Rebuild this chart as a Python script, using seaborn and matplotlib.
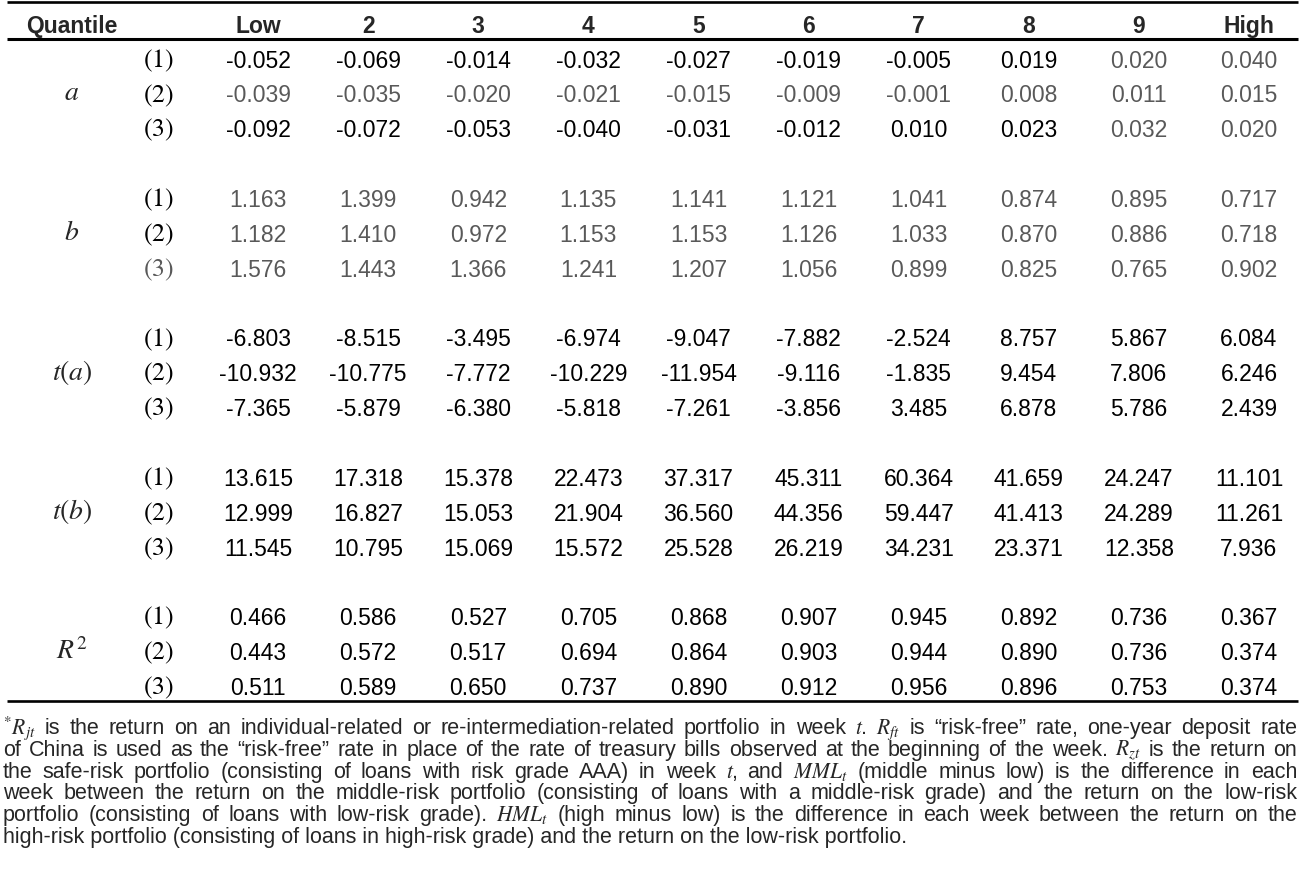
import numpy as np
import pandas as pd
import matplotlib
matplotlib.use("Agg")
import matplotlib.pyplot as plt
import matplotlib.transforms as mtransforms
from matplotlib.colors import ListedColormap
import seaborn as sns

# table data
quantiles = ["Low", "2", "3", "4", "5", "6", "7", "8", "9", "High"]
stats = ["$a$", "$b$", "$t(a)$", "$t(b)$", "$R^2$"]
specs = ["(1)", "(2)", "(3)"]

a_vals = [[-0.052, -0.069, -0.014, -0.032, -0.027, -0.019, -0.005, 0.019, 0.020, 0.040],
          [-0.039, -0.035, -0.020, -0.021, -0.015, -0.009, -0.001, 0.008, 0.011, 0.015],
          [-0.092, -0.072, -0.053, -0.040, -0.031, -0.012, 0.010, 0.023, 0.032, 0.020]]
b_vals = [[1.163, 1.399, 0.942, 1.135, 1.141, 1.121, 1.041, 0.874, 0.895, 0.717],
          [1.182, 1.410, 0.972, 1.153, 1.153, 1.126, 1.033, 0.870, 0.886, 0.718],
          [1.576, 1.443, 1.366, 1.241, 1.207, 1.056, 0.899, 0.825, 0.765, 0.902]]
ta_vals = [[-6.803, -8.515, -3.495, -6.974, -9.047, -7.882, -2.524, 8.757, 5.867, 6.084],
           [-10.932, -10.775, -7.772, -10.229, -11.954, -9.116, -1.835, 9.454, 7.806, 6.246],
           [-7.365, -5.879, -6.380, -5.818, -7.261, -3.856, 3.485, 6.878, 5.786, 2.439]]
tb_vals = [[13.615, 17.318, 15.378, 22.473, 37.317, 45.311, 60.364, 41.659, 24.247, 11.101],
           [12.999, 16.827, 15.053, 21.904, 36.560, 44.356, 59.447, 41.413, 24.289, 11.261],
           [11.545, 10.795, 15.069, 15.572, 25.528, 26.219, 34.231, 23.371, 12.358, 7.936]]
r2_vals = [[0.466, 0.586, 0.527, 0.705, 0.868, 0.907, 0.945, 0.892, 0.736, 0.367],
           [0.443, 0.572, 0.517, 0.694, 0.864, 0.903, 0.944, 0.890, 0.736, 0.374],
           [0.511, 0.589, 0.650, 0.737, 0.890, 0.912, 0.956, 0.896, 0.753, 0.374]]

# cells printed in grey in the original: (stat index, spec index) -> quantile columns
grey_cells = {(0, 0): [8, 9], (0, 1): list(range(10)), (0, 2): [8, 9],
              (1, 0): list(range(10)), (1, 1): list(range(10)), (1, 2): list(range(10))}
grey_labels = [(1, 2)]

footnote = [
    r"$^{*}R_{jt}$ is the return on an individual-related or re-intermediation-related portfolio in week $t$. $R_{ft}$ is “risk-free” rate, one-year deposit rate",
    r"of China is used as the “risk-free” rate in place of the rate of treasury bills observed at the beginning of the week. $R_{zt}$ is the return on",
    r"the safe-risk portfolio (consisting of loans with risk grade AAA) in week $t$, and $MML_t$ (middle minus low) is the difference in each",
    r"week between the return on the middle-risk portfolio (consisting of loans with a middle-risk grade) and the return on the low-risk",
    r"portfolio (consisting of loans with low-risk grade). $HML_t$ (high minus low) is the difference in each week between the return on the",
    r"high-risk portfolio (consisting of loans in high-risk grade) and the return on the low-risk portfolio.",
]

sns.set_theme(style="white")
plt.rcParams["font.family"] = ["Liberation Sans", "DejaVu Sans"]
plt.rcParams["mathtext.fontset"] = "stix"

GREY = "#595959"

# build the table frame, with an empty row between groups
blocks = [a_vals, b_vals, ta_vals, tb_vals, r2_vals]
rows, row_labels, row_keys = [], [], []
for s, block in enumerate(blocks):
    for k, vals in enumerate(block):
        rows.append(vals)
        row_labels.append("$" + specs[k] + "$")
        row_keys.append((s, k))
    if s < len(blocks) - 1:
        rows.append([np.nan] * len(quantiles))
        row_labels.append("")
        row_keys.append(None)
df = pd.DataFrame(rows, columns=quantiles)
annot = df.map(lambda v: "" if pd.isna(v) else f"{v:.3f}").values

W, H = 1302, 872
fig = plt.figure(figsize=(W / 100, H / 100), dpi=100)

# heatmap body: columns 110.1 px apart, rows 34.85 px apart
left, top = 203.0, 41.2
cw, rh = 110.1, 34.85
axh = fig.add_axes([left / W, 1 - (top + rh * len(df)) / H,
                    cw * len(quantiles) / W, rh * len(df) / H])
sns.heatmap(df, ax=axh, cmap=ListedColormap([(1, 1, 1, 0)]), cbar=False,
            annot=annot, fmt="",
            annot_kws=dict(fontsize=16.5, va="center_baseline"),
            xticklabels=False, yticklabels=row_labels)
axh.set_facecolor("none")
axh.tick_params(axis="y", left=False, pad=15, labelsize=18.5, rotation=0)
axh.set_ylabel("")

for t in axh.texts:
    x, y = t.get_position()
    key = row_keys[int(y)]
    t.set_color("black")
    if key in grey_cells and int(x) in grey_cells[key]:
        t.set_color(GREY)

# nudge the (1)/(2)/(3) labels down a little so they sit on the number baseline
shift = mtransforms.ScaledTranslation(0, -2 / 100, fig.dpi_scale_trans)
for lab, key in zip(axh.get_yticklabels(), row_keys):
    lab.set_color(GREY if key in grey_labels else "black")
    lab.set_verticalalignment("center")
    lab.set_transform(lab.get_transform() + shift)

# column headers and group labels
for i, q in enumerate(quantiles):
    axh.text(i + 0.5, -0.5, q, ha="center", va="center_baseline",
             fontsize=16.5, fontweight="bold")
lab_x = -1.19
axh.text(lab_x, -0.5, "Quantile", ha="center", va="center_baseline",
         fontsize=16.5, fontweight="bold")
for s, name in enumerate(stats):
    axh.text(lab_x, s * 4 + 1.5, name, ha="center", va="center", fontsize=20)

# overlay in pixel coordinates for rules and footnote
ax = fig.add_axes([0, 0, 1, 1])
ax.set_xlim(0, W)
ax.set_ylim(H, 0)
ax.axis("off")
ax.set_facecolor("none")
ax.hlines([2.5, 39.0, 700.5], 7, 1298, color="black", lw=[1.9, 2.2, 1.9])

renderer = fig.canvas.get_renderer()
fs = 15.5
x0, x1 = 3, 1297
base0, step = 734, 21.8
for n, line in enumerate(footnote):
    y = base0 + n * step
    if n == len(footnote) - 1:
        ax.text(x0, y, line, fontsize=fs, va="baseline", ha="left")
        continue
    words = line.split(" ")
    texts = [ax.text(0, y, w, fontsize=fs, va="baseline", ha="left") for w in words]
    widths = [t.get_window_extent(renderer).width for t in texts]
    gap = (x1 - x0 - sum(widths)) / (len(words) - 1)
    x = x0
    for t, w in zip(texts, widths):
        t.set_x(x)
        x += w + gap

fig.savefig("out.png", dpi=100)
